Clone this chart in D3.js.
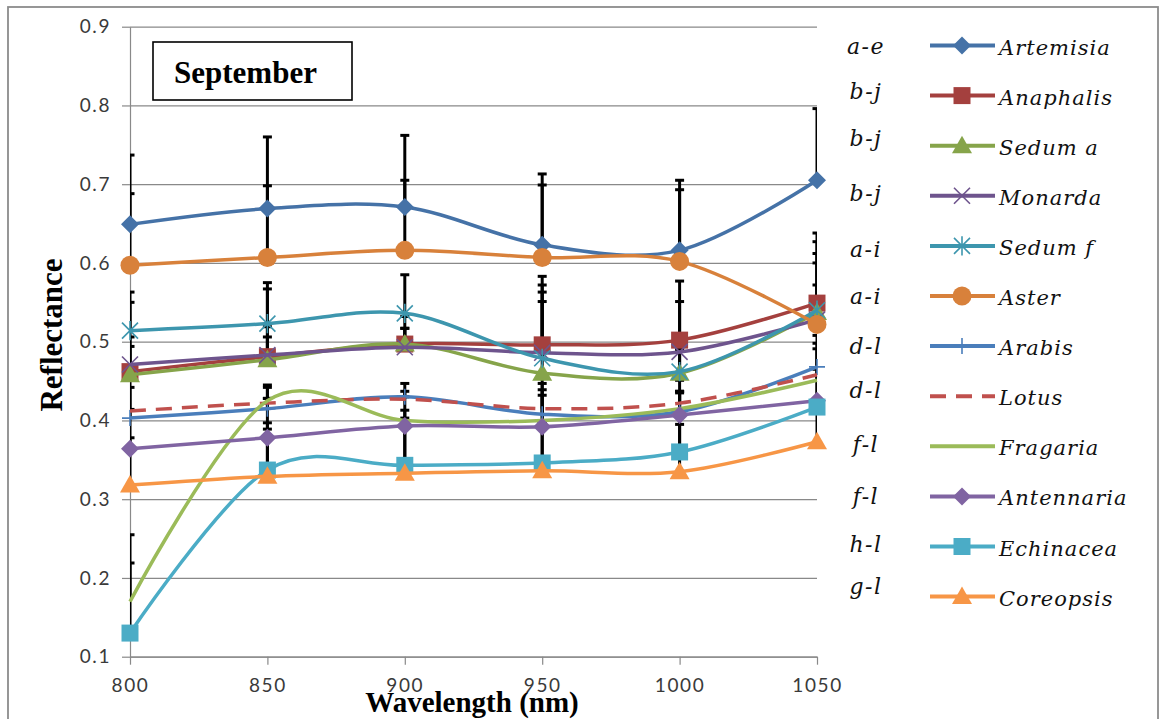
<!DOCTYPE html>
<html>
<head>
<meta charset="utf-8">
<script src="https://cdn.jsdelivr.net/npm/d3@7"></script>
<style>
  body { margin: 0; background: #fff; }
  svg { display: block; }
</style>
</head>
<body>
<div id="display"></div>
<script>
// ---- data ----
const wavelengths = [800, 850, 900, 950, 1000, 1050];
const yTicks = [0.1, 0.2, 0.3, 0.4, 0.5, 0.6, 0.7, 0.8, 0.9];

const species = ["Artemisia", "Anaphalis", "Sedum a", "Monarda", "Sedum f", "Aster",
                 "Arabis", "Lotus", "Fragaria", "Antennaria", "Echinacea", "Coreopsis"];
const groupLetters = ["a-e", "b-j", "b-j", "b-j", "a-i", "a-i", "d-l", "d-l", "f-l", "f-l", "h-l", "g-l"];

const artemisia  = [0.649, 0.669, 0.671, 0.623, 0.616, 0.705];
const anaphalis  = [0.462, 0.481, 0.497, 0.496, 0.502, 0.549];
const sedumA     = [0.458, 0.477, 0.497, 0.460, 0.460, 0.537];
const monarda    = [0.471, 0.483, 0.493, 0.486, 0.487, 0.528];
const sedumF     = [0.514, 0.523, 0.536, 0.479, 0.462, 0.540];
const aster      = [0.597, 0.607, 0.616, 0.607, 0.602, 0.522];
const arabis     = [0.403, 0.415, 0.430, 0.408, 0.411, 0.468];
const lotus      = [0.412, 0.422, 0.427, 0.415, 0.422, 0.458];
const fragaria   = [0.170, 0.425, 0.400, 0.400, 0.415, 0.451];
const antennaria = [0.364, 0.378, 0.393, 0.392, 0.407, 0.425];
const echinacea  = [0.130, 0.337, 0.343, 0.346, 0.360, 0.417];
const coreopsis  = [0.318, 0.329, 0.333, 0.336, 0.335, 0.373];

// upper error bars (only the + side is drawn in the original)
const errArtemisia  = [0.088, 0.091, 0.091, 0.090, 0.089, 0.091];
const errAnaphalis  = [0.044, 0.038, 0.020, 0.087, 0.075, 0.089];
const errSedumA     = [0.036, 0.029, 0.020, 0.091, 0.030, 0.075];
const errMonarda    = [0.079, 0.084, 0.039, 0.086, 0.064, 0.072];
const errSedumF     = [0.049, 0.052, 0.049, 0.084, 0.030, 0.087];
const errAster      = [0.091, 0.091, 0.089, 0.092, 0.091, 0.050];
const errArabis     = [0.050, 0.013, 0.007, 0.048, 0.040, 0.040];
const errLotus      = [0.030, 0.020, 0.020, 0.032, 0.015, 0.040];
const errFragaria   = [0.085, 0.020, 0.030, 0.039, 0.020, 0.040];
const errAntennaria = [0.050, 0.050, 0.020, 0.040, 0.030, 0.040];
const errEchinacea  = [0.089, 0.060, 0.060, 0.050, 0.050, 0.040];
const errCoreopsis  = [0.060, 0.060, 0.060, 0.060, 0.060, 0.050];

const values = [artemisia, anaphalis, sedumA, monarda, sedumF, aster,
                arabis, lotus, fragaria, antennaria, echinacea, coreopsis];
const errors = [errArtemisia, errAnaphalis, errSedumA, errMonarda, errSedumF, errAster,
                errArabis, errLotus, errFragaria, errAntennaria, errEchinacea, errCoreopsis];

// ---- styling ----
const colors = ["#4572A7", "#A4403E", "#86A44A", "#6E548D", "#3D96AE", "#D8813B",
                "#4A7EBB", "#C0504D", "#9BBB59", "#8064A2", "#4BACC6", "#F79646"];
const markers = ["diamond", "square", "triangle", "x", "star", "circle",
                 "plus", "none", "none", "diamond", "square", "triangle"];
const letterNudge = [0, -5, -8, -3, 3, 0, 0, -6, -2, 0, -3, -11];

const series = species.map((name, i) => ({
  name: name, letters: groupLetters[i], color: colors[i], marker: markers[i],
  dashed: name === "Lotus",
  points: wavelengths.map((w, j) => ({ w: w, v: values[i][j], e: errors[i][j] }))
}));

const chartW = 1162, chartH = 719;
const plotL = 130, plotR = 817, plotT = 26.7, plotB = 656.7;
const serif = "'Liberation Serif', 'Times New Roman', serif";
const italicSerif = "'DejaVu Serif', 'Liberation Serif', 'Noto Serif', serif";
const gridColor = "#898989";

const svg = d3.select("#display").append("svg")
  .attr("width", chartW).attr("height", chartH);

// chart frame
svg.append("rect").attr("x", 8).attr("y", 7).attr("width", 1150).attr("height", 730)
  .attr("fill", "none").attr("stroke", "#8c8c8c").attr("stroke-width", 1.8);

const x = d3.scaleLinear().domain([800, 1050]).range([plotL, plotR]);
const y = d3.scaleLinear().domain([0.1, 0.9]).range([plotB, plotT]);

// gridlines
const grid = svg.append("g").attr("transform", `translate(${plotL},0)`)
  .call(d3.axisLeft(y).tickValues(yTicks).tickSize(-(plotR - plotL)).tickFormat(""));
grid.select(".domain").remove();
grid.selectAll("line").attr("stroke", gridColor).attr("stroke-width", 1.2);

// y axis
const gY = svg.append("g").attr("transform", `translate(${plotL},0)`)
  .call(d3.axisLeft(y).tickValues(yTicks).tickSize(8).tickSizeOuter(0).tickPadding(11)
    .tickFormat(d3.format(".1f")));
gY.select(".domain").attr("stroke", gridColor).attr("stroke-width", 1.2);
gY.selectAll("line").attr("stroke", gridColor).attr("stroke-width", 1.2);
gY.selectAll("text").attr("font-family", "Lato, 'Open Sans', sans-serif")
  .attr("font-size", 19).attr("letter-spacing", "1.6px").attr("fill", "#3a3a3a");

// x axis
const gX = svg.append("g").attr("transform", `translate(0,${plotB})`)
  .call(d3.axisBottom(x).tickValues(wavelengths).tickSize(8).tickSizeOuter(0).tickPadding(14)
    .tickFormat(d3.format("d")));
gX.select(".domain").attr("stroke", gridColor).attr("stroke-width", 1.2);
gX.selectAll("line").attr("stroke", gridColor).attr("stroke-width", 1.2);
gX.selectAll("text").attr("font-family", "Lato, 'Open Sans', sans-serif")
  .attr("font-size", 19).attr("letter-spacing", "1.6px").attr("fill", "#3a3a3a");

// axis titles
svg.append("text").attr("transform", "translate(62,335) rotate(-90)")
  .attr("text-anchor", "middle").attr("font-family", serif).attr("font-weight", "bold")
  .attr("font-size", 31).text("Reflectance");
svg.append("text").attr("x", 472).attr("y", 712)
  .attr("text-anchor", "middle").attr("font-family", serif).attr("font-weight", "bold")
  .attr("font-size", 29).text("Wavelength (nm)");

// month box
svg.append("rect").attr("x", 153).attr("y", 42).attr("width", 199).attr("height", 58)
  .attr("fill", "#fff").attr("stroke", "#000").attr("stroke-width", 1.6);
svg.append("text").attr("x", 174).attr("y", 83).attr("font-family", serif)
  .attr("font-weight", "bold").attr("font-size", 31).text("September");

function markerPath(type, r) {
  switch (type) {
    case "diamond": return `M0,${-r}L${r},0L0,${r}L${-r},0Z`;
    case "square": return `M${-r},${-r}H${r}V${r}H${-r}Z`;
    case "triangle": return `M0,${-r}L${r},${r * 0.75}L${-r},${r * 0.75}Z`;
    case "circle": return d3.symbol(d3.symbolCircle, Math.PI * r * r)();
    case "x": return `M${-r},${-r}L${r},${r}M${-r},${r}L${r},${-r}`;
    case "star": return `M${-r},${-r}L${r},${r}M${-r},${r}L${r},${-r}M0,${-r * 1.2}V${r * 1.2}`;
    case "plus": return `M${-r},0H${r}M0,${-r}V${r}`;
  }
  return "";
}
const markerSize = { diamond: 9, square: 8.5, triangle: 10, circle: 9.5, x: 8, star: 8, plus: 8 };
const strokeOnly = { x: true, star: true, plus: true };

function drawMarker(g, s, cx, cy) {
  if (s.marker === "none") return;
  const r = markerSize[s.marker];
  const p = g.append("path").attr("transform", `translate(${cx},${cy})`)
    .attr("d", markerPath(s.marker, r));
  if (strokeOnly[s.marker]) {
    p.attr("fill", "none").attr("stroke", s.color).attr("stroke-width", 1.6);
  } else {
    p.attr("fill", s.color).attr("stroke", "none");
  }
}

// error bars, clipped to the plot area
svg.append("clipPath").attr("id", "plotClip").append("rect")
  .attr("x", plotL).attr("y", 0).attr("width", plotR - plotL).attr("height", plotB);
const gErr = svg.append("g").attr("clip-path", "url(#plotClip)");
series.forEach(s => {
  s.points.forEach(p => {
    const px = x(p.w), y0 = y(p.v), y1 = y(p.v + p.e);
    gErr.append("line").attr("x1", px).attr("x2", px).attr("y1", y0).attr("y2", y1)
      .attr("stroke", "#000").attr("stroke-width", 3);
    gErr.append("line").attr("x1", px - 4.5).attr("x2", px + 4.5).attr("y1", y1).attr("y2", y1)
      .attr("stroke", "#000").attr("stroke-width", 3);
  });
});

// lines + markers
const line = d3.line().x(d => x(d.w)).y(d => y(d.v)).curve(d3.curveCardinal.tension(0));
series.forEach(s => {
  const g = svg.append("g");
  g.append("path").attr("d", line(s.points)).attr("fill", "none")
    .attr("stroke", s.color).attr("stroke-width", 3.5)
    .attr("stroke-dasharray", s.dashed ? "16,10" : null);
  s.points.forEach(p => drawMarker(g, s, x(p.w), y(p.v)));
});

// legend
const legend = svg.append("g");
series.forEach((s, i) => {
  const cy = 45.5 + i * 50.1;
  legend.append("text").attr("x", 866).attr("y", cy + 8 + letterNudge[i])
    .attr("text-anchor", "middle").attr("font-family", italicSerif).attr("font-style", "italic")
    .attr("font-size", 22).attr("letter-spacing", "1.5px").attr("fill", "#111")
    .text(s.letters);
  legend.append("line").attr("x1", 930).attr("x2", 995).attr("y1", cy).attr("y2", cy)
    .attr("stroke", s.color).attr("stroke-width", 4)
    .attr("stroke-dasharray", s.dashed ? "16,10" : null);
  drawMarker(legend, s, 962, cy);
  legend.append("text").attr("x", 999).attr("y", cy + 9)
    .attr("font-family", italicSerif).attr("font-style", "italic")
    .attr("font-size", 21).attr("letter-spacing", "1px").attr("fill", "#111")
    .text(s.name);
});
</script>
</body>
</html>
